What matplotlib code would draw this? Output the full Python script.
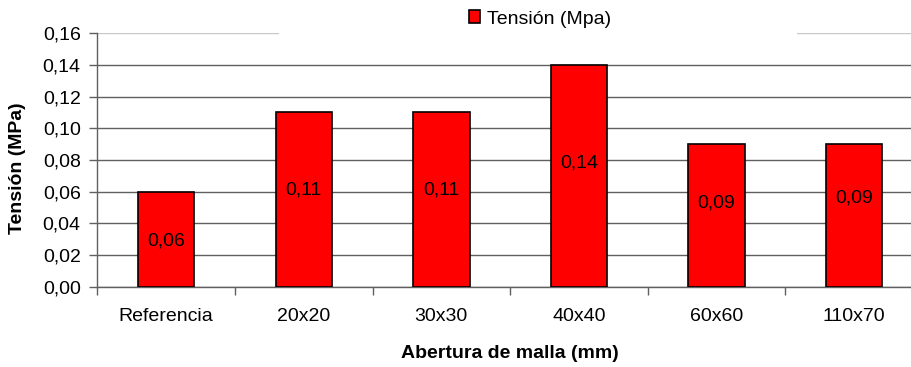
import matplotlib as mpl
import matplotlib.pyplot as plt
from matplotlib.patches import Rectangle

categories = ["Referencia", "20x20", "30x30", "40x40", "60x60", "110x70"]
tension = [0.06, 0.11, 0.11, 0.14, 0.09, 0.09]
value_labels = ["0,06", "0,11", "0,11", "0,14", "0,09", "0,09"]
yticks = [0.00, 0.02, 0.04, 0.06, 0.08, 0.10, 0.12, 0.14, 0.16]

# where excel put the data labels (data units)
label_y = [0.029, 0.061, 0.061, 0.078, 0.053, 0.056]

mpl.rcParams['font.family'] = ['Liberation Sans', 'DejaVu Sans']
mpl.rcParams['font.size'] = 14

fig = plt.figure(figsize=(9.12, 3.67), dpi=100)
ax = fig.add_axes([0.1067, 0.2188, 1.012 - 0.1067, 0.9093 - 0.2188])

x = list(range(len(categories)))
bars = ax.bar(x, tension, width=0.41, color="#ff0000", edgecolor="black",
              linewidth=1.2, zorder=3, label="Tensión (Mpa)")
for xi, ly, txt in zip(x, label_y, value_labels):
    ax.text(xi, ly, txt, ha="center", va="center", fontsize=14, zorder=4)

ax.set_xlim(-0.5, len(categories) - 0.5)
ax.set_ylim(0, 0.16)
ax.set_yticks(yticks)
ax.set_yticklabels([("%.2f" % v).replace(".", ",") for v in yticks])
ax.yaxis.grid(True, color="#606060", linewidth=1.0, zorder=0)
ax.get_ygridlines()[-1].set_color("#c8c8c8")
ax.set_axisbelow(True)

ax.set_xticks(x)
ax.set_xticklabels(categories)
ax.set_xticks([i - 0.5 for i in range(len(categories) + 1)], minor=True)
ax.tick_params(axis="x", which="major", length=0, pad=15)
ax.tick_params(axis="x", which="minor", length=6, width=1, color="#606060")
ax.tick_params(axis="y", length=6, width=1, color="#606060", pad=6)

for side in ["top", "right"]:
    ax.spines[side].set_visible(False)
for side in ["left", "bottom"]:
    ax.spines[side].set_color("#606060")
    ax.spines[side].set_linewidth(1.0)

fig.text(18 / 912, 1 - 168 / 367, "Tensión (MPa)", rotation=90, ha="center",
         va="center", fontweight="bold", fontsize=14)
fig.text(510 / 912, 1 - 353 / 367, "Abertura de malla (mm)", ha="center",
         va="center", fontweight="bold", fontsize=14)

# white legend box hiding the top gridline
fig.patches.append(Rectangle((279 / 912, 1 - 37 / 367), (797 - 279) / 912, 37 / 367,
                             transform=fig.transFigure, facecolor="white",
                             edgecolor="none", zorder=5))
lgd = fig.legend(handles=[bars], labels=["Tensión (Mpa)"], loc="center",
                 bbox_to_anchor=(540 / 912, 1 - 19 / 367), frameon=False,
                 handlelength=0.6, handleheight=0.6, handletextpad=0.35,
                 fontsize=14)
lgd.set_zorder(6)

fig.savefig("out.png", dpi=100)
